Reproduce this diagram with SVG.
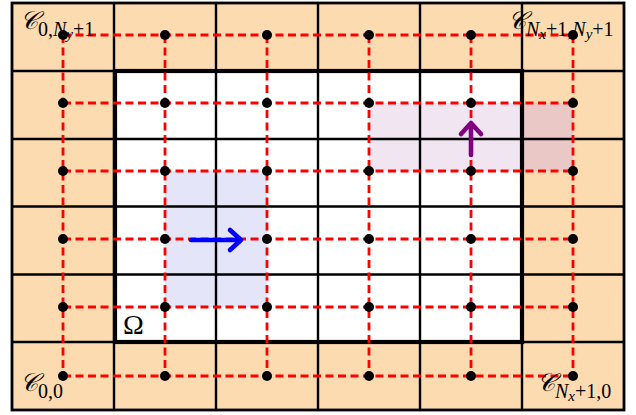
<svg xmlns="http://www.w3.org/2000/svg" width="636" height="415" viewBox="0 0 636 415">
<style>
.peach{fill:#FDDBB1}
.grid{stroke:#000;stroke-width:2.4;fill:none}
.dash{stroke:#FF0000;stroke-width:2.8;stroke-dasharray:8 4.5;fill:none}
.dot{fill:#000}
.lbl{font-family:"Liberation Serif","DejaVu Serif",serif;fill:#000}
.cal{font-family:"DejaVu Serif","Liberation Serif",serif;font-style:italic}
.it{font-style:italic}
</style>
<rect width="636" height="415" fill="#fff"/>
<g id="background">
<rect class="peach" x="12" y="3" width="612" height="407"/>
<rect x="114" y="71" width="408" height="271" fill="#fff"/>
</g>
<g id="blue-region">
<rect x="165" y="171" width="102" height="136" fill="#E5E5FA"/>
</g>
<g id="purple-region">
<rect x="369" y="103" width="153" height="68" fill="#F1E5F2"/>
<rect x="522" y="103" width="51" height="68" fill="#E9C8C6"/>
</g>
<g id="grid">
<path class="grid" d="M114 3V410M216 3V410M318 3V410M420 3V410M522 3V410M12 71H624M12 139H624M12 206.5H624M12 274.5H624M12 342H624"/>
<rect x="12" y="3" width="612" height="407" fill="none" stroke="#000" stroke-width="2.8"/>
<rect id="omega-boundary" x="115" y="71" width="407" height="271" fill="none" stroke="#000" stroke-width="4.2"/>
</g>
<g id="connectors">
<path class="dash" d="M63 35H573M63 103H573M63 171H573M63 239H573M63 307H573M63 376H573"/>
<path class="dash" d="M63 35V376M165 35V376M267 35V376M369 35V376M471 35V376M573 35V376"/>
</g>
<g id="nodes">
<g class="dot">
<circle cx="63" cy="35" r="5"/><circle cx="165" cy="35" r="5"/><circle cx="267" cy="35" r="5"/><circle cx="369" cy="35" r="5"/><circle cx="471" cy="35" r="5"/><circle cx="573" cy="35" r="5"/>
<circle cx="63" cy="103" r="5"/><circle cx="165" cy="103" r="5"/><circle cx="267" cy="103" r="5"/><circle cx="369" cy="103" r="5"/><circle cx="471" cy="103" r="5"/><circle cx="573" cy="103" r="5"/>
<circle cx="63" cy="171" r="5"/><circle cx="165" cy="171" r="5"/><circle cx="267" cy="171" r="5"/><circle cx="369" cy="171" r="5"/><circle cx="471" cy="171" r="5"/><circle cx="573" cy="171" r="5"/>
<circle cx="63" cy="239" r="5"/><circle cx="165" cy="239" r="5"/><circle cx="267" cy="239" r="5"/><circle cx="369" cy="239" r="5"/><circle cx="471" cy="239" r="5"/><circle cx="573" cy="239" r="5"/>
<circle cx="63" cy="307" r="5"/><circle cx="165" cy="307" r="5"/><circle cx="267" cy="307" r="5"/><circle cx="369" cy="307" r="5"/><circle cx="471" cy="307" r="5"/><circle cx="573" cy="307" r="5"/>
<circle cx="63" cy="376" r="5"/><circle cx="165" cy="376" r="5"/><circle cx="267" cy="376" r="5"/><circle cx="369" cy="376" r="5"/><circle cx="471" cy="376" r="5"/><circle cx="573" cy="376" r="5"/>
</g>
</g>
<g id="arrows">
<path d="M191 240H240M230 230L241 240L230 250" stroke="#0000FF" stroke-width="4.6" fill="none" stroke-linecap="round" stroke-linejoin="round"/>
<path d="M471 155V124M461 134L471 123L481 134" stroke="#800080" stroke-width="4.6" fill="none" stroke-linecap="round" stroke-linejoin="round"/>
</g>
<g id="labels">
<text class="lbl" x="20" y="29" font-size="20"><tspan class="cal" font-size="25">𝒞</tspan><tspan font-size="20" y="36">0,</tspan><tspan class="it" font-size="20">N</tspan><tspan class="it" font-size="15" y="39">y</tspan><tspan font-size="20" y="36">+1</tspan></text>
<text class="lbl" x="508" y="29" font-size="20"><tspan class="cal" font-size="25">𝒞</tspan><tspan class="it" font-size="20" y="36">N</tspan><tspan class="it" font-size="15" y="39">x</tspan><tspan font-size="20" y="36">+1,</tspan><tspan class="it" font-size="20">N</tspan><tspan class="it" font-size="15" y="39">y</tspan><tspan font-size="20" y="36">+1</tspan></text>
<text class="lbl" x="20" y="391" font-size="20"><tspan class="cal" font-size="25">𝒞</tspan><tspan font-size="20" y="398">0,0</tspan></text>
<text class="lbl" x="537" y="391" font-size="20"><tspan class="cal" font-size="25">𝒞</tspan><tspan class="it" font-size="20" y="398">N</tspan><tspan class="it" font-size="15" y="401">x</tspan><tspan font-size="20" y="398">+1,0</tspan></text>
<text class="lbl" x="123" y="334" font-size="28">Ω</text>
</g>
</svg>
